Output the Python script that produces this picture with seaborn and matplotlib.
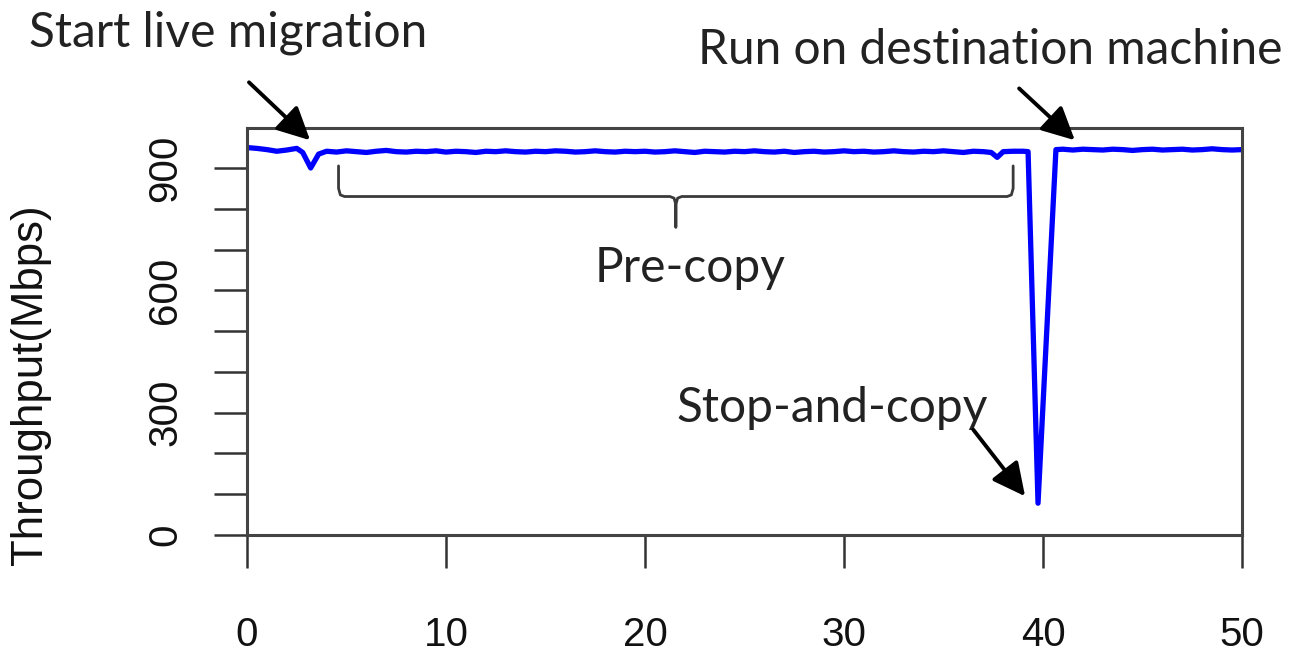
import matplotlib
matplotlib.use("Agg")
import matplotlib.pyplot as plt
import seaborn as sns
import numpy as np

# throughput trace (seconds, Mbps)
times = [0, 0.5, 1.0, 1.5, 2.0, 2.5, 2.8, 3.2, 3.6, 4.0, 4.5, 5.0, 5.5, 6.0, 6.5, 7.0,
         7.5, 8.0, 8.5, 9.0, 9.5, 10.0, 10.5, 11.0, 11.5, 12.0, 12.5, 13.0, 13.5, 14.0,
         14.5, 15.0, 15.5, 16.0, 16.5, 17.0, 17.5, 18.0, 18.5, 19.0, 19.5, 20.0, 20.5,
         21.0, 21.5, 22.0, 22.5, 23.0, 23.5, 24.0, 24.5, 25.0, 25.5, 26.0, 26.5, 27.0,
         27.5, 28.0, 28.5, 29.0, 29.5, 30.0, 30.5, 31.0, 31.5, 32.0, 32.5, 33.0, 33.5,
         34.0, 34.5, 35.0, 35.5, 36.0, 36.5, 37.0, 37.4, 37.7, 38.0, 38.5, 39.0, 39.25,
         39.75, 40.65, 41.0, 41.5, 42.0, 42.5, 43.0, 43.5, 44.0, 44.5, 45.0, 45.5, 46.0,
         46.5, 47.0, 47.5, 48.0, 48.5, 49.0, 49.5, 50.0]
throughput = [950, 948, 945, 941, 944, 948, 938, 900, 934, 941, 939, 942, 940, 938, 941,
              943, 940, 939, 941, 940, 942, 939, 941, 940, 938, 941, 940, 942, 940, 939,
              941, 940, 942, 941, 939, 940, 942, 940, 939, 941, 940, 941, 939, 940, 942,
              940, 938, 941, 940, 939, 941, 940, 942, 940, 939, 941, 938, 940, 941, 939,
              940, 942, 940, 941, 939, 940, 942, 940, 939, 941, 940, 942, 940, 938, 941,
              940, 938, 926, 940, 941, 941, 940,
              78, 945, 946, 944, 946, 945, 944, 946, 945, 943, 945, 946, 944,
              945, 946, 944, 945, 947, 945, 944, 945]

x_ticks = [0, 10, 20, 30, 40, 50]
y_ticks = [0, 100, 200, 300, 400, 500, 600, 700, 800, 900]
y_tick_labels = ["0", "", "", "300", "", "", "600", "", "", "900"]

sns.set_style("ticks")
plt.rcParams['font.family'] = ['Liberation Sans', 'DejaVu Sans']
note_font = ['Lato', 'DejaVu Sans']

fig = plt.figure(figsize=(12.92, 6.57), dpi=100)
ax = fig.add_axes([247 / 1292, 1 - 535 / 657, 995 / 1292, 407 / 657])

sns.lineplot(x=times, y=throughput, color='#0000ff', linewidth=3.8, ax=ax)

ax.set_xlim(0, 50)
ax.set_ylim(0, 998)
ax.set_xticks(x_ticks)
ax.set_xticklabels([str(t) for t in x_ticks], fontsize=29)
ax.set_yticks(y_ticks)
ax.set_yticklabels(y_tick_labels, fontsize=29, rotation=90, va='center')
ax.tick_params(axis='both', length=24, width=1.8, color='#333333', labelcolor='#111111')
ax.tick_params(axis='x', pad=34)
ax.tick_params(axis='y', pad=21)
for sp in ax.spines.values():
    sp.set_visible(True)
    sp.set_linewidth(2.2)
    sp.set_color('#444444')

ax.set_ylabel("Throughput(Mbps)", fontsize=31.5, color='#111111')
ax.yaxis.set_label_coords(-0.197, 0.37)


# curly-ish brace under the pre-copy phase
def brace(x0, x1, y_top, y_mid, y_tip, r=0.3):
    xm = (x0 + x1) / 2
    xs = [x0, x0, x0 + r * 0.3, x0 + r, xm - r, xm - r * 0.3, xm, xm,
          xm, xm + r * 0.3, xm + r, x1 - r, x1 - r * 0.3, x1, x1]
    ys = [y_top, y_mid + 20, y_mid + 4, y_mid, y_mid, y_mid - 4, y_mid - 20, y_tip,
          y_mid - 20, y_mid - 4, y_mid, y_mid, y_mid + 4, y_mid + 20, y_top]
    ax.plot(xs, ys, color='#3a3a3a', linewidth=2.0, solid_capstyle='round')


brace(4.6, 38.5, 905, 830, 755)

txt = dict(fontsize=34.5, color='#222222', family=note_font, ha='center', va='center')
ax.text((690 - 247) / 19.9, (535 - 268) / 0.408, "Pre-copy", **txt)
ax.text((832 - 247) / 19.9, (535 - 408) / 0.408, "Stop-and-copy", **txt)
fig.text(228 / 1292, 1 - 33 / 657, "Start live migration", **txt)
fig.text(990 / 1292, 1 - 50 / 657, "Run on destination machine", **txt)

arrow = dict(arrowstyle='-|>,head_length=1.0,head_width=0.5', color='black',
             linewidth=2.8, mutation_scale=20, shrinkA=0, shrinkB=0)
ax.annotate("", xy=(3.17, 968), xytext=(0.1, 1110), arrowprops=arrow, annotation_clip=False)
ax.annotate("", xy=(41.6, 968), xytext=(38.8, 1095), arrowprops=arrow, annotation_clip=False)
ax.annotate("", xy=(39.1, 95), xytext=(36.5, 258), arrowprops=arrow, annotation_clip=False)

fig.savefig("out.png", dpi=100)
